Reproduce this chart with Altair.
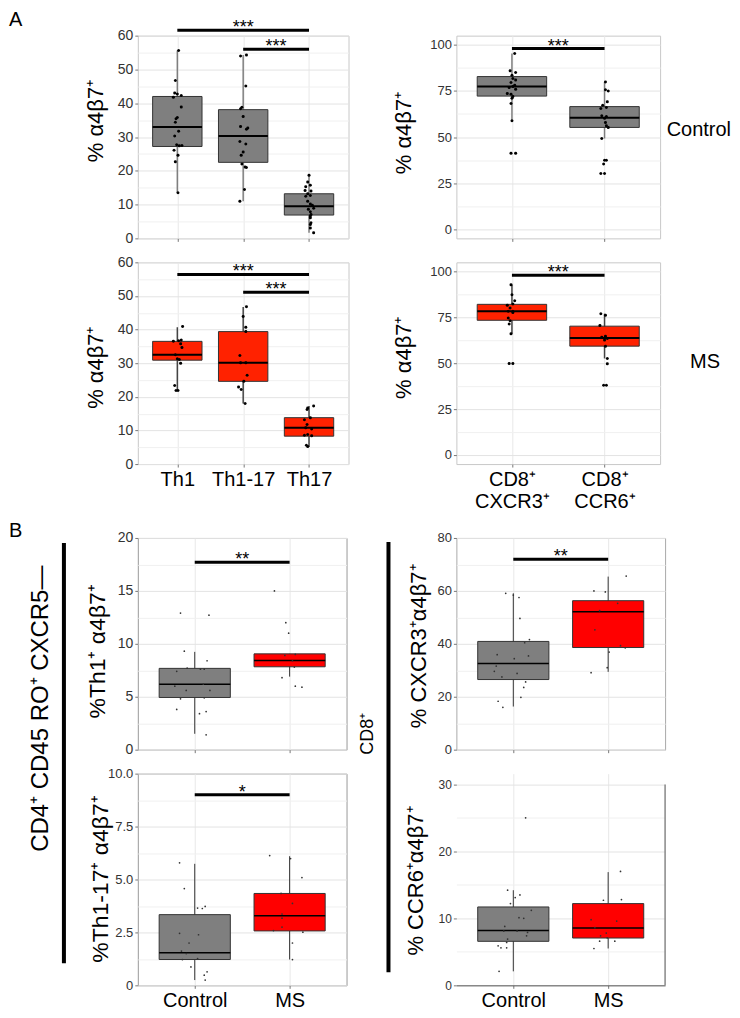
import json
import altair as alt
import pandas as pd

FONT = "Liberation Sans"

# ---------------- categories ----------------
cd4_cats = ["Th1", "Th1-17", "Th17"]
cd8_cats = ["CD8⁺|CXCR3⁺", "CD8⁺|CCR6⁺"]
grp_cats = ["Control", "MS"]

# ---------------- Panel A, Control, CD4 subsets ----------------
actl_cd4_lo = [13.5, 11.0, 1.7]
actl_cd4_q1 = [27.2, 22.5, 6.9]
actl_cd4_med = [33.0, 30.3, 9.5]
actl_cd4_q3 = [42.0, 38.1, 13.2]
actl_cd4_hi = [55.6, 54.3, 18.7]
actl_th1_val = [55.6, 46.7, 43.0, 42.7, 42.3, 41.8, 38.9, 35.8, 35.4, 34.4, 31.7, 30.3, 27.7, 27.5, 27.4, 26.1, 24.6, 22.7, 13.5]
actl_th1_jit = [0.02, -0.03, -0.04, 0.0, 0.06, -0.06, 0.06, 0.0, -0.02, -0.03, 0.02, -0.04, -0.01, 0.07, 0.03, -0.05, 0.01, -0.03, 0.01]
actl_th117_val = [54.0, 54.3, 45.1, 38.8, 38.4, 36.1, 33.1, 32.3, 32.7, 28.7, 27.9, 25.6, 24.6, 22.0, 21.1, 21.0, 14.5, 11.0]
actl_th117_jit = [-0.04, 0.05, 0.04, -0.02, -0.04, 0.0, -0.04, 0.05, 0.07, -0.05, 0.04, 0.0, -0.03, -0.02, 0.03, 0.05, 0.02, -0.05]
actl_th17_val = [18.7, 16.7, 15.3, 15.7, 14.2, 14.0, 13.2, 12.5, 12.7, 11.0, 10.2, 9.8, 8.6, 8.9, 7.9, 7.1, 6.6, 6.1, 4.6, 4.1, 3.1, 1.7]
actl_th17_jit = [0.0, -0.02, -0.05, 0.02, -0.06, 0.03, -0.02, -0.05, 0.02, -0.02, 0.02, 0.05, -0.01, 0.07, 0.02, 0.03, 0.02, 0.02, 0.03, 0.02, 0.02, 0.07]
actl_cd4_sig_from = ["Th1", "Th1-17"]
actl_cd4_sig_to = ["Th17", "Th17"]
actl_cd4_sig_y = [61.6, 56.0]
actl_cd4_sig_lab = ["***", "***"]

# ---------------- Panel A, Control, CD8 subsets ----------------
actl_cd8_lo = [58.4, 49.2]
actl_cd8_q1 = [72.2, 55.2]
actl_cd8_med = [77.4, 60.4]
actl_cd8_q3 = [82.8, 66.5]
actl_cd8_hi = [95.3, 79.9]
actl_cxcr3_val = [95.3, 85.9, 85.0, 83.5, 81.7, 81.0, 79.6, 78.1, 76.9, 77.4, 75.9, 73.2, 73.6, 72.0, 71.1, 68.2, 58.8, 41.2, 41.2]
actl_cxcr3_jit = [0.03, -0.02, 0.04, 0.0, 0.01, 0.04, -0.01, 0.03, -0.03, 0.01, 0.04, -0.01, -0.05, 0.01, 0.0, -0.01, 0.0, -0.01, 0.04]
actl_ccr6_val = [79.9, 75.6, 75.0, 69.1, 67.3, 65.5, 66.0, 61.5, 61.1, 60.2, 57.9, 56.1, 55.2, 49.2, 37.4, 37.4, 35.3, 30.2, 30.2]
actl_ccr6_jit = [0.01, 0.01, 0.04, 0.03, -0.02, -0.04, 0.02, -0.03, 0.02, 0.0, 0.01, 0.02, 0.04, -0.03, 0.0, 0.02, -0.01, -0.04, 0.0]
actl_cd8_sig_from = ["CD8⁺|CXCR3⁺"]
actl_cd8_sig_to = ["CD8⁺|CCR6⁺"]
actl_cd8_sig_y = [98.0]
actl_cd8_sig_lab = ["***"]

# ---------------- Panel A, MS, CD4 subsets ----------------
ams_cd4_lo = [21.9, 18.0, 5.1]
ams_cd4_q1 = [30.9, 24.6, 8.3]
ams_cd4_med = [32.5, 30.1, 10.8]
ams_cd4_q3 = [36.5, 39.4, 13.8]
ams_cd4_hi = [40.7, 46.7, 17.3]
ams_th1_val = [40.9, 36.5, 36.7, 36.9, 35.8, 34.7, 32.5, 31.3, 31.1, 30.0, 23.4, 21.9, 21.9]
ams_th1_jit = [0.08, -0.06, 0.02, 0.06, 0.05, 0.07, -0.03, 0.0, 0.03, 0.05, -0.04, -0.02, 0.01]
ams_th117_val = [46.8, 43.9, 40.7, 39.4, 32.3, 30.1, 30.1, 26.4, 24.6, 22.9, 22.2, 18.0]
ams_th117_jit = [0.05, 0.0, 0.04, 0.04, -0.05, -0.04, 0.04, 0.06, 0.01, -0.07, -0.03, 0.03]
ams_th17_val = [17.3, 16.7, 16.2, 13.8, 13.2, 11.8, 10.4, 10.8, 8.6, 8.8, 8.4, 5.6, 5.2]
ams_th17_jit = [0.07, -0.02, -0.03, 0.02, -0.07, -0.03, 0.04, -0.05, -0.07, -0.02, 0.04, -0.04, -0.02]
ams_cd4_sig_from = ["Th1", "Th1-17"]
ams_cd4_sig_to = ["Th17", "Th17"]
ams_cd4_sig_y = [56.4, 51.1]
ams_cd4_sig_lab = ["***", "***"]

# ---------------- Panel A, MS, CD8 subsets ----------------
ams_cd8_lo = [66.0, 52.6]
ams_cd8_q1 = [73.4, 59.3]
ams_cd8_med = [78.3, 63.8]
ams_cd8_q3 = [82.1, 70.2]
ams_cd8_hi = [92.8, 77.0]
ams_cxcr3_val = [92.8, 87.3, 84.1, 82.3, 81.6, 80.1, 78.3, 78.3, 77.6, 74.7, 73.2, 71.4, 66.0, 49.9, 49.9]
ams_cxcr3_jit = [-0.01, 0.0, 0.03, 0.01, -0.05, -0.02, 0.01, -0.04, 0.01, -0.04, -0.02, -0.03, -0.01, -0.03, 0.01]
ams_ccr6_val = [77.0, 76.1, 70.5, 64.2, 64.7, 62.7, 63.5, 59.3, 52.6, 49.7, 38.0, 38.0]
ams_ccr6_jit = [-0.04, 0.01, -0.05, -0.03, 0.01, 0.0, 0.03, 0.01, 0.03, 0.03, -0.01, 0.02]
ams_cd8_sig_from = ["CD8⁺|CXCR3⁺"]
ams_cd8_sig_to = ["CD8⁺|CCR6⁺"]
ams_cd8_sig_y = [97.9]
ams_cd8_sig_lab = ["***"]

# ---------------- Panel B, %Th1+ a4b7+ ----------------
b_th1_lo = [1.5, 6.9]
b_th1_q1 = [4.93, 7.83]
b_th1_med = [6.18, 8.42]
b_th1_q3 = [7.68, 9.05]
b_th1_hi = [9.24, 9.05]
b_th1_ctl_val = [12.9, 12.7, 9.3, 8.4, 7.7, 7.6, 7.6, 7.4, 6.2, 6.0, 5.6, 5.6, 4.8, 4.9, 3.8, 3.6, 3.4, 1.4]
b_th1_ctl_jit = [-0.15, 0.15, -0.11, 0.13, -0.08, 0.06, 0.10, -0.19, 0.09, -0.21, -0.09, 0.16, -0.15, 0.10, -0.19, 0.12, 0.05, 0.12]
b_th1_ms_val = [15.0, 12.0, 11.0, 8.9, 9.0, 8.4, 7.8, 6.8, 6.0, 5.9]
b_th1_ms_jit = [-0.16, -0.04, -0.01, -0.05, 0.06, 0.03, 0.05, -0.08, 0.06, 0.13]
b_th1_sig_from = ["Control"]
b_th1_sig_to = ["MS"]
b_th1_sig_y = [17.7]
b_th1_sig_lab = ["**"]

# ---------------- Panel B, %CXCR3+ a4b7+ ----------------
b_cx_lo = [16.3, 29.4]
b_cx_q1 = [26.5, 38.6]
b_cx_med = [32.6, 52.1]
b_cx_q3 = [40.9, 56.3]
b_cx_hi = [59.1, 65.4]
b_cx_ctl_val = [59.1, 58.4, 57.5, 49.6, 41.6, 40.4, 35.9, 35.4, 34.4, 31.6, 29.6, 28.8, 27.5, 25.6, 23.5, 19.8, 18.3, 16.0]
b_cx_ctl_jit = [-0.08, 0.0, 0.06, 0.07, 0.17, 0.12, -0.17, 0.16, 0.01, -0.18, -0.2, 0.04, -0.12, 0.13, 0.11, 0.08, -0.16, -0.11]
b_cx_ms_val = [65.6, 60.0, 59.6, 55.3, 52.5, 45.3, 39.3, 38.5, 36.9, 31.0, 29.1]
b_cx_ms_jit = [0.19, -0.15, -0.03, 0.10, -0.09, -0.14, 0.13, 0.18, 0.01, -0.01, -0.18]
b_cx_sig_from = ["Control"]
b_cx_sig_to = ["MS"]
b_cx_sig_y = [72.0]
b_cx_sig_lab = ["**"]

# ---------------- Panel B, %Th1-17+ a4b7+ ----------------
b_th117_lo = [0.25, 1.22]
b_th117_q1 = [1.22, 2.57]
b_th117_med = [1.54, 3.29]
b_th117_q3 = [3.34, 4.34]
b_th117_hi = [5.74, 6.1]
b_th117_ctl_val = [5.79, 4.57, 3.73, 3.65, 3.63, 2.46, 2.39, 2.0, 1.62, 1.5, 1.22, 1.26, 0.87, 0.64, 0.48, 0.25]
b_th117_ctl_jit = [-0.16, -0.11, 0.11, 0.03, 0.08, -0.16, 0.04, -0.06, -0.14, -0.09, -0.13, 0.03, -0.04, 0.13, 0.10, 0.11]
b_th117_ms_val = [6.13, 5.99, 5.09, 4.34, 3.87, 3.37, 3.17, 2.59, 2.75, 2.51, 2.0, 1.22]
b_th117_ms_jit = [-0.21, 0.01, 0.13, -0.09, 0.03, -0.08, -0.08, -0.17, -0.08, 0.14, 0.03, 0.03]
b_th117_sig_from = ["Control"]
b_th117_sig_to = ["MS"]
b_th117_sig_y = [9.0]
b_th117_sig_lab = ["*"]

# ---------------- Panel B, %CCR6+ a4b7+ ----------------
b_cc_lo = [2.09, 5.5]
b_cc_q1 = [6.57, 7.06]
b_cc_med = [8.18, 8.57]
b_cc_q3 = [11.7, 12.2]
b_cc_hi = [14.2, 16.9]
b_cc_ctl_val = [25.0, 14.2, 13.5, 13.1, 12.2, 11.2, 10.1, 10.0, 8.8, 8.1, 8.1, 7.9, 7.4, 6.9, 6.4, 5.9, 5.6, 5.6, 2.09]
b_cc_ctl_jit = [0.13, -0.06, 0.07, 0.02, -0.03, 0.19, 0.06, 0.11, -0.09, -0.1, 0.04, 0.15, 0.14, -0.06, -0.07, -0.16, -0.13, -0.07, -0.15]
b_cc_ms_val = [17.0, 12.7, 12.8, 9.8, 9.6, 8.6, 7.8, 7.4, 7.1, 6.6, 6.6, 5.5]
b_cc_ms_jit = [0.13, -0.05, 0.14, -0.18, 0.09, -0.14, -0.02, -0.08, -0.01, -0.09, 0.07, -0.15]

# ---------------- styling ----------------
GRAY = "#7f7f7f"
RED_A = "#ff2200"
RED_B = "#ff0000"
BOX_HALF = 0.375


def note(text, x, y, size, angle=0, align="center", baseline="middle"):
    return alt.Chart(pd.DataFrame({"t": [text]})).mark_text(
        font=FONT, fontSize=size, angle=angle, align=align, baseline=baseline, color="black"
    ).encode(x=alt.value(x), y=alt.value(y), text="t:N")


def vbar(x, y1, y2, color="black", width=4):
    return alt.Chart(pd.DataFrame({"t": [0]})).mark_rule(color=color, strokeWidth=width).encode(
        x=alt.value(x), y=alt.value(y1), y2=alt.value(y2)
    )


def panel(cats, stats, vals, jits, sig, *, fills, ydom, major, minor, w, h, title, title_size,
          title_x, title_y, ylab_size, xlabels, border, whisker_color, whisker_w, median_w,
          box_stroke, pt_size, pt_color, fmt1=False, xdomain_line=False, extras=()):
    lo, q1, med, q3, hi = stats
    n = len(cats)
    pos = list(range(1, n + 1))
    box = pd.DataFrame({"pos": pos, "lo": lo, "q1": q1, "med": med, "q3": q3, "hi": hi, "fill": fills})
    box["left"] = box["pos"] - BOX_HALF
    box["right"] = box["pos"] + BOX_HALF

    px, py = [], []
    for i, (vs, js) in enumerate(zip(vals, jits)):
        for v, j in zip(vs, js):
            px.append(i + 1 + j)
            py.append(v)
    pts = pd.DataFrame({"px": px, "py": py})

    parts = []
    for i, c in enumerate(cats):
        lab = c.split("|")
        lab_js = json.dumps(lab if len(lab) > 1 else lab[0], ensure_ascii=False)
        parts.append(f"datum.value == {i + 1} ? {lab_js}")
    xlabel_expr = " : ".join(parts) + " : ''"

    xs = alt.Scale(domain=[0.4, n + 0.6], nice=False, zero=False)
    ys = alt.Scale(domain=ydom, nice=False, zero=False)

    xaxis = alt.Axis(values=pos, labelExpr=xlabel_expr, labels=xlabels, title=None,
                     grid=True, gridColor="#e8e8e8", gridWidth=1, ticks=True, tickSize=3,
                     tickColor="#777777", domain=xdomain_line, domainColor="#555555",
                     labelFont=FONT, labelFontSize=20, labelColor="black", labelPadding=2,
                     labelLineHeight=22, labelFlush=False, labelOverlap=False)

    yvals = []
    k = 0
    while k * minor <= ydom[1] + 1e-9:
        yvals.append(round(k * minor, 4))
        k += 1
    test = f"abs(datum.value / {major} - round(datum.value / {major})) < 0.001"
    if fmt1:
        ylab_expr = f"({test}) ? (datum.value == 0 ? '0' : format(datum.value, '.1f')) : ''"
    else:
        ylab_expr = f"({test}) ? datum.label : ''"
    yaxis = alt.Axis(values=yvals, labelExpr=ylab_expr, title=title, titleX=title_x, titleY=title_y,
                     titleAngle=270, titleAlign="center", titleBaseline="middle", titleFont=FONT,
                     titleFontSize=title_size, titleFontWeight="normal", titleColor="black",
                     labelFont=FONT, labelFontSize=ylab_size, labelColor="#333333", labelPadding=2,
                     labelFlush=False, labelOverlap=False, tickSize=3, tickColor="#777777",
                     tickOpacity={"condition": {"test": f"!({test})", "value": 0}, "value": 1},
                     grid=True, gridWidth=1,
                     gridColor={"condition": {"test": test, "value": "#e3e3e3"}, "value": "#f0f0f0"},
                     domain=False)

    def X(f):
        return alt.X(f, type="quantitative", scale=xs, axis=xaxis)

    def Y(f):
        return alt.Y(f, type="quantitative", scale=ys, axis=yaxis)

    layers = [
        alt.Chart(box).mark_rule(color=whisker_color, strokeWidth=whisker_w).encode(
            x=X("pos"), y=Y("lo"), y2="hi"),
        alt.Chart(box).mark_rect(stroke=box_stroke, strokeWidth=1).encode(
            x=X("left"), x2="right", y=Y("q1"), y2="q3", fill=alt.Fill("fill:N", scale=None)),
        alt.Chart(box).mark_rule(color="black", strokeWidth=median_w).encode(
            x=X("left"), x2="right", y=Y("med")),
        alt.Chart(pts).mark_circle(size=pt_size, color=pt_color, opacity=1).encode(
            x=X("px"), y=Y("py")),
    ]
    if sig is not None:
        sfrom, sto, sy, slab = sig
        sdf = pd.DataFrame({"x1": [cats.index(a) + 1 for a in sfrom],
                            "x2": [cats.index(b) + 1 for b in sto], "y": sy, "lab": slab})
        sdf["xm"] = (sdf["x1"] + sdf["x2"]) / 2
        layers.append(alt.Chart(sdf).mark_rule(color="black", strokeWidth=3).encode(
            x=X("x1"), x2="x2", y=Y("y")))
        layers.append(alt.Chart(sdf).mark_text(font=FONT, fontSize=18, baseline="alphabetic",
                                               dy=3, color="black").encode(
            x=X("xm"), y=Y("y"), text="lab:N"))
    layers.extend(extras)
    return alt.layer(*layers).properties(
        width=w, height=h, view=alt.ViewBackground(stroke=border, strokeWidth=1))


A_common = dict(major=10, minor=5, ylab_size=14, title="% α4β7⁺", title_size=22,
                whisker_w=1.5, median_w=2, box_stroke="#333333", pt_size=9, pt_color="black",
                border="#c8c8c8")
A8_common = dict(A_common, major=25, minor=12.5, ylab_size=13)

a_tl = panel(cd4_cats, (actl_cd4_lo, actl_cd4_q1, actl_cd4_med, actl_cd4_q3, actl_cd4_hi),
             [actl_th1_val, actl_th117_val, actl_th17_val],
             [actl_th1_jit, actl_th117_jit, actl_th17_jit],
             (actl_cd4_sig_from, actl_cd4_sig_to, actl_cd4_sig_y, actl_cd4_sig_lab),
             fills=[GRAY] * 3, ydom=[0, 60], w=211, h=203, title_x=-42, title_y=85,
             xlabels=False, whisker_color=GRAY, **A_common,
             extras=[note("A", -129, -26, 20, align="left", baseline="top")])

a_tr = panel(cd8_cats, (actl_cd8_lo, actl_cd8_q1, actl_cd8_med, actl_cd8_q3, actl_cd8_hi),
             [actl_cxcr3_val, actl_ccr6_val], [actl_cxcr3_jit, actl_ccr6_jit],
             (actl_cd8_sig_from, actl_cd8_sig_to, actl_cd8_sig_y, actl_cd8_sig_lab),
             fills=[GRAY] * 2, ydom=[-5, 105], w=204, h=203, title_x=-53, title_y=97,
             xlabels=False, whisker_color=GRAY, **A8_common,
             extras=[note("Control", 275, 94, 20, align="right")])

a_bl = panel(cd4_cats, (ams_cd4_lo, ams_cd4_q1, ams_cd4_med, ams_cd4_q3, ams_cd4_hi),
             [ams_th1_val, ams_th117_val, ams_th17_val],
             [ams_th1_jit, ams_th117_jit, ams_th17_jit],
             (ams_cd4_sig_from, ams_cd4_sig_to, ams_cd4_sig_y, ams_cd4_sig_lab),
             fills=[RED_A] * 3, ydom=[0, 60], w=211, h=202, title_x=-42, title_y=105,
             xlabels=True, whisker_color="#444444", **A_common)

a_br = panel(cd8_cats, (ams_cd8_lo, ams_cd8_q1, ams_cd8_med, ams_cd8_q3, ams_cd8_hi),
             [ams_cxcr3_val, ams_ccr6_val], [ams_cxcr3_jit, ams_ccr6_jit],
             (ams_cd8_sig_from, ams_cd8_sig_to, ams_cd8_sig_y, ams_cd8_sig_lab),
             fills=[RED_A] * 2, ydom=[-5, 105], w=204, h=202, title_x=-53, title_y=95,
             xlabels=True, whisker_color="#444444", **A8_common,
             extras=[note("MS", 249, 100, 20)])


def spacer():
    return alt.Chart(pd.DataFrame({"t": [""]})).mark_text().encode(text="t:N").properties(
        width=10, height=26, view=alt.ViewBackground(stroke="transparent", strokeWidth=0))


B_common = dict(whisker_color="#333333", whisker_w=1, median_w=1.5, box_stroke="#333333",
                pt_size=3, pt_color="#333333", fills=[GRAY, RED_B])

b_tl = panel(grp_cats, (b_th1_lo, b_th1_q1, b_th1_med, b_th1_q3, b_th1_hi),
             [b_th1_ctl_val, b_th1_ms_val], [b_th1_ctl_jit, b_th1_ms_jit],
             (b_th1_sig_from, b_th1_sig_to, b_th1_sig_y, b_th1_sig_lab),
             ydom=[0, 20], major=5, minor=2.5, w=209, h=212, title="%Th1⁺ α4β7⁺", title_size=23,
             title_x=-40, title_y=113, ylab_size=14, xlabels=False, border="#999999", **B_common,
             extras=[note("B", -129, -17, 20, align="left", baseline="top"),
                     vbar(-74, 5, 426),
                     note("CD4⁺ CD45 RO⁺ CXCR5—", -97, 171, 24, angle=270)])

b_tr = panel(grp_cats, (b_cx_lo, b_cx_q1, b_cx_med, b_cx_q3, b_cx_hi),
             [b_cx_ctl_val, b_cx_ms_val], [b_cx_ctl_jit, b_cx_ms_jit],
             (b_cx_sig_from, b_cx_sig_to, b_cx_sig_y, b_cx_sig_lab),
             ydom=[0, 80], major=20, minor=10, w=209, h=212, title="% CXCR3⁺α4β7⁺", title_size=22,
             title_x=-38, title_y=108, ylab_size=13, xlabels=False, border="#aaaaaa", **B_common,
             extras=[note("CD8⁺", -88, 196, 18, angle=270), vbar(-68, 4, 435)])

b_bl = panel(grp_cats, (b_th117_lo, b_th117_q1, b_th117_med, b_th117_q3, b_th117_hi),
             [b_th117_ctl_val, b_th117_ms_val], [b_th117_ctl_jit, b_th117_ms_jit],
             (b_th117_sig_from, b_th117_sig_to, b_th117_sig_y, b_th117_sig_lab),
             ydom=[0, 10], major=2.5, minor=1.25, fmt1=True, w=209, h=212,
             title="%Th1-17⁺ α4β7⁺", title_size=23, title_x=-37, title_y=105, ylab_size=13,
             xlabels=True, border="#999999", **B_common)

b_br = panel(grp_cats, (b_cc_lo, b_cc_q1, b_cc_med, b_cc_q3, b_cc_hi),
             [b_cc_ctl_val, b_cc_ms_val], [b_cc_ctl_jit, b_cc_ms_jit], None,
             ydom=[0, 31.6], major=10, minor=5, w=209, h=212, title="% CCR6⁺α4β7⁺", title_size=22,
             title_x=-41, title_y=107, ylab_size=12, xlabels=True, border="transparent",
             xdomain_line=True, **B_common,
             extras=[vbar(209, 11, 212, color="#888888", width=1.5)])

chart = alt.concat(
    a_tl, a_tr, a_bl, a_br, spacer(), spacer(), b_tl, b_tr, b_bl, b_br,
    columns=2, spacing={"row": 24, "column": 108}, bounds="flush", padding=0,
).configure_view(stroke="transparent").configure(font=FONT)

chart.save("out.html", embed_options={"renderer": "svg", "actions": False})
